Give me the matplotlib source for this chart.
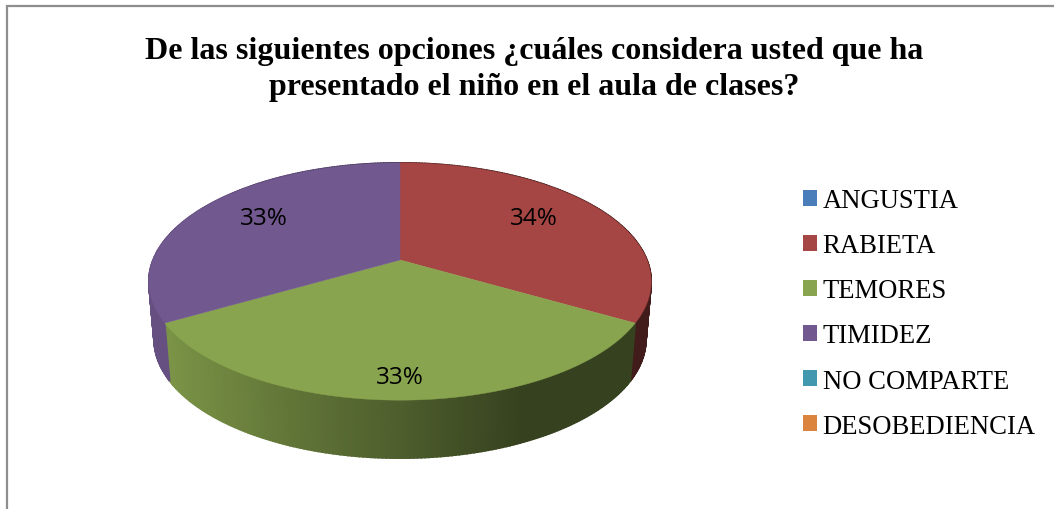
import matplotlib
matplotlib.use('Agg')
import matplotlib.pyplot as plt
import numpy as np
from matplotlib.patches import Patch

title = "De las siguientes opciones ¿cuáles considera usted que ha\npresentado el niño en el aula de clases?"
categories = ['ANGUSTIA', 'RABIETA', 'TEMORES', 'TIMIDEZ', 'NO COMPARTE', 'DESOBEDIENCIA']
shares = [0, 33.34, 33.33, 33.33, 0, 0]
share_labels = ['', '34%', '33%', '33%', '', '']
colors = ['#4A7EBB', '#A64644', '#88A44E', '#71588F', '#4198AF', '#DB843D']

W, H = 1054, 510
fig = plt.figure(figsize=(W / 100, H / 100), dpi=100, facecolor='white')
ax = fig.add_axes([0, 0, 1, 1])
ax.set_xlim(0, W)
ax.set_ylim(H, 0)
ax.axis('off')

# 3D tilt of the excel pie: the apex sits above the middle of the ellipse
CX, CY, R, TILT_A, TILT_C = 400, 261, 247, -67.4, 0.1814


def project(theta):
    u, v = np.sin(theta), np.cos(theta)
    d = 1 + TILT_C * v
    return CX + R * u / d, (TILT_A * v + CY) / d


def side_shade(x):
    return np.interp(x, [165, 300, 400, 520, 640], [0.9, 0.7, 0.57, 0.4, 0.4])


edges = np.radians(np.concatenate([[0], np.cumsum(shares)]) / np.sum(shares) * 360)

# side wall first, the top faces cover what is behind
for i, c in enumerate(colors):
    if shares[i] == 0:
        continue
    rgb = np.array(matplotlib.colors.to_rgb(c))
    th = np.linspace(edges[i], edges[i + 1], 160)
    x, y = project(th)
    xb = CX + (x - CX) * 0.979
    yb = y + 58
    for j in range(len(th) - 1):
        col = rgb * side_shade((x[j] + x[j + 1]) / 2)
        ax.fill([x[j], x[j + 1], xb[j + 1], xb[j]], [y[j], y[j + 1], yb[j + 1], yb[j]],
                color=col, lw=1.2)

label_pos = {1: (534, 219), 2: (400, 378), 3: (264, 219)}
for i, c in enumerate(colors):
    if shares[i] == 0:
        continue
    x, y = project(np.linspace(edges[i], edges[i + 1], 160))
    ax.fill(np.r_[CX, x], np.r_[CY, y], color=c, lw=0.3)
    ax.text(label_pos[i][0], label_pos[i][1], share_labels[i], ha='center', va='center',
            fontsize=17.5, family='Open Sans', color='black')

# chart border, only top and left are in the crop
ax.plot([7, 7, W], [H, 7, 7], color='#8E8E8E', lw=1.6, solid_joinstyle='miter')

ax.text(534, 69.5, title, ha='center', va='center', fontsize=23, fontweight='bold',
        family='Liberation Serif', color='black', linespacing=1.36)

handles = [Patch(facecolor=c, edgecolor='none', label=n) for c, n in zip(colors, categories)]
ax.legend(handles=handles, loc='upper left', bbox_to_anchor=(803 / W, 1 - 189 / H), frameon=False,
          prop={'family': 'Liberation Serif', 'size': 19.2}, borderpad=0, borderaxespad=0,
          handlelength=0.54, handleheight=0.54, handletextpad=0.2, labelspacing=0.755)

fig.savefig('out.png', dpi=100, facecolor='white')
